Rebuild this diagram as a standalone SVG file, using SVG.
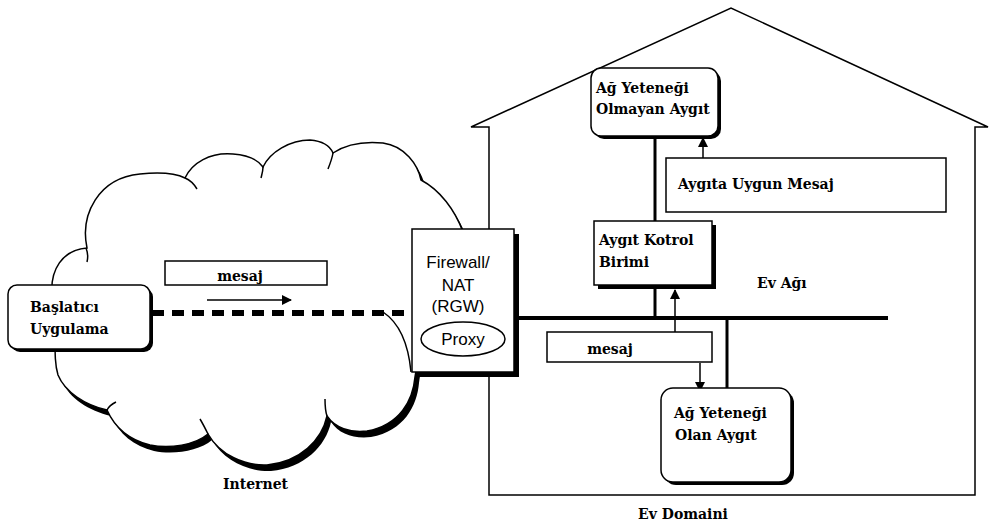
<svg xmlns="http://www.w3.org/2000/svg" width="990" height="525" viewBox="0 0 990 525">
  <style>
    .ln { fill: none; stroke: #000; stroke-width: 1.5; }
    .box { fill: #fff; stroke: #000; stroke-width: 1.5; }
    .shadow { fill: #000; }
    .lbl { font-family: "DejaVu Serif", "Liberation Serif", serif; font-weight: bold; font-size: 14px; fill: #000; }
    .sans { font-family: "Liberation Sans", Arial, sans-serif; font-size: 17px; fill: #000; text-anchor: middle; }
    .wire { stroke: #000; fill: none; }
  </style>
  <defs>
    <marker id="head" viewBox="0 0 10 10" refX="9" refY="5" markerWidth="10" markerHeight="10" markerUnits="userSpaceOnUse" orient="auto">
      <path d="M0,0 L10,5 L0,10 Z" fill="#000"/>
    </marker>
    <path id="cloudShape" d="M55,335 L52,295 C50,270 62,250 87,248 C80,215 98,178 140,174 C160,172 175,173 185,178 C192,163 210,152 233,154 C248,155 258,160 263,167 C270,152 290,140 310,140 C322,141 330,146 333,153 C345,145 362,141 383,143 C405,146 418,165 421,180 C440,190 455,210 463,232 C478,265 470,300 445,320 C425,335 418,355 415,377 C413,400 400,425 367,431 C350,433 335,428 327,416 C322,440 300,462 267,465 C245,466 220,455 208,434 C195,445 170,449 150,445 C130,440 115,428 107,410 C85,405 65,392 58,375 C55,365 55,355 55,335 Z"/>
  </defs>

  <rect width="990" height="525" fill="#fff"/>

  <!-- house outline -->
  <g id="house">
    <path class="ln" d="M489,495 V127 H471 L731,8 L988,127 H975 V495 Z"/>
    <text class="lbl" x="683" y="519" text-anchor="middle">Ev Domaini</text>
  </g>

  <!-- internet cloud -->
  <g id="internet">
    <use href="#cloudShape" transform="translate(4,6)" fill="#000"/>
    <use href="#cloudShape" fill="#fff" stroke="#000" stroke-width="1.5"/>
    <path class="ln" d="M86,248 C88,253 88,258 87,262 M185,178 C190,180 194,184 197,189 M263,167 C263,171 262,174 261,178 M333,153 C332,159 330,164 328,169 M383,312 C398,322 408,340 411,372 M327,416 C325,410 325,405 325,399 M208,434 C205,428 203,424 200,419 M107,410 C109,406 112,404 116,402"/>
    <text class="lbl" x="223" y="489">Internet</text>
  </g>

  <!-- connectors -->
  <g id="connectors">
    <path class="wire" d="M152,313 H414" stroke-width="6" stroke-dasharray="12 8"/>
    <path class="wire" d="M207,300 H291" stroke-width="1.5" marker-end="url(#head)"/>
    <path class="wire" d="M515,318 H888" stroke-width="4"/>
    <path class="wire" d="M655,286 V318" stroke-width="3"/>
    <path class="wire" d="M655,138 V221" stroke-width="3"/>
    <path class="wire" d="M727,318 V388" stroke-width="3"/>
    <path class="wire" d="M703,158 V138" stroke-width="1.5" marker-end="url(#head)"/>
    <path class="wire" d="M675,332 V290" stroke-width="1.5" marker-end="url(#head)"/>
    <path class="wire" d="M700,363 V391" stroke-width="1.5" marker-end="url(#head)"/>
  </g>

  <g id="baslatici">
    <rect class="shadow" x="11" y="288" width="142" height="64" rx="9"/>
    <rect class="box" x="8" y="285" width="142" height="64" rx="9"/>
    <text class="lbl" x="30" y="312">Başlatıcı</text>
    <text class="lbl" x="30" y="334">Uygulama</text>
  </g>

  <g id="mesaj-internet">
    <rect class="box" x="165" y="261" width="162" height="24" stroke-width="1"/>
    <text class="lbl" x="240" y="281" text-anchor="middle">mesaj</text>
  </g>

  <g id="firewall">
    <rect class="shadow" x="417" y="234" width="102" height="143"/>
    <rect class="box" x="412" y="229" width="102" height="143"/>
    <text class="sans" x="458" y="268">Firewall/</text>
    <text class="sans" x="458" y="291">NAT</text>
    <text class="sans" x="458" y="312">(RGW)</text>
    <ellipse class="box" cx="463" cy="339" rx="42" ry="17"/>
    <text class="sans" x="463" y="345">Proxy</text>
  </g>

  <g id="olmayan-aygit">
    <rect class="shadow" x="594" y="71" width="127" height="68" rx="10"/>
    <rect class="box" x="591" y="68" width="127" height="68" rx="10"/>
    <text class="lbl" x="596" y="93">Ağ Yeteneği</text>
    <text class="lbl" x="596" y="114">Olmayan Aygıt</text>
  </g>

  <g id="aygita-mesaj">
    <rect class="box" x="666" y="158" width="280" height="54" stroke-width="1"/>
    <text class="lbl" x="678" y="189">Aygıta Uygun Mesaj</text>
  </g>

  <g id="kontrol-birimi">
    <rect class="shadow" x="598" y="225" width="118" height="64"/>
    <rect class="box" x="594" y="221" width="118" height="64"/>
    <text class="lbl" x="599" y="245">Aygıt Kotrol</text>
    <text class="lbl" x="599" y="267">Birimi</text>
  </g>

  <g id="ev-agi">
    <text class="lbl" x="757" y="288">Ev Ağı</text>
  </g>

  <g id="mesaj-ev">
    <rect class="box" x="547" y="332" width="165" height="30" stroke-width="1"/>
    <text class="lbl" x="610" y="354" text-anchor="middle">mesaj</text>
  </g>

  <g id="olan-aygit">
    <rect class="shadow" x="664" y="391" width="130" height="94" rx="12"/>
    <rect class="box" x="661" y="388" width="130" height="94" rx="12"/>
    <text class="lbl" x="674" y="418">Ağ Yeteneği</text>
    <text class="lbl" x="675" y="440">Olan Aygıt</text>
  </g>
</svg>
